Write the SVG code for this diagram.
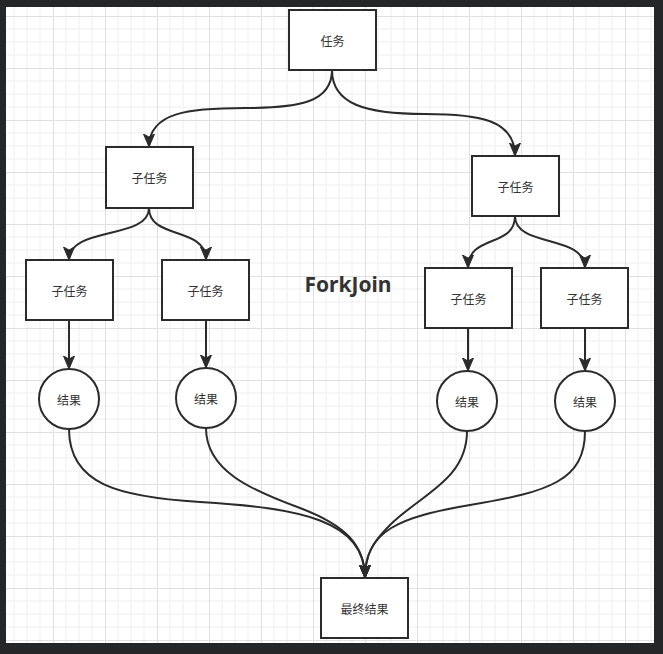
<svg xmlns="http://www.w3.org/2000/svg" width="663" height="654" viewBox="0 0 663 654">
<style>
.box{fill:#fff;stroke:#2b2b2b;stroke-width:2}
.lbl{font-family:"Noto Sans CJK SC","Noto Sans",sans-serif;font-size:12px;fill:#333;text-anchor:middle;dominant-baseline:central}
.edge{fill:none;stroke:#2b2b2b;stroke-width:2;marker-end:url(#arr)}
</style>
<defs>
<pattern id="grid" x="1" y="16" width="52" height="52" patternUnits="userSpaceOnUse">
<path d="M13,0V52M26,0V52M39,0V52M0,13H52M0,26H52M0,39H52" stroke="#efefef" stroke-width="1" fill="none"/>
<path d="M0.5,0V52M0,0.5H52" stroke="#e0e0e0" stroke-width="1" fill="none"/>
</pattern>
<marker id="arr" markerUnits="userSpaceOnUse" markerWidth="14" markerHeight="14" viewBox="0 0 14 14" refX="13" refY="7" orient="auto">
<path d="M0,1.5L13,7L0,12.5L3,7z" fill="#2b2b2b" stroke="#2b2b2b" stroke-width="1"/>
</marker>
</defs>
<rect width="663" height="654" fill="#252627"/>
<rect x="6" y="7" width="648" height="636" fill="#fff"/>
<rect x="6" y="7" width="648" height="636" fill="url(#grid)"/>
<g id="connectors">
<path class="edge" d="M332,70 C332,102 300,108 245,108 C190,108 149,112 149,147"/>
<path class="edge" d="M332,70 C332,104 365,114 425,114 C480,114 515,120 515,156"/>
<path class="edge" d="M149,208 C149,240 69,226 69,260"/>
<path class="edge" d="M149,208 C149,240 206,226 206,260"/>
<path class="edge" d="M515,216 C515,248 468,234 468,268"/>
<path class="edge" d="M515,216 C515,248 585,234 585,268"/>
<path class="edge" d="M69,320 V369"/>
<path class="edge" d="M206,320 V368"/>
<path class="edge" d="M468,328 V371"/>
<path class="edge" d="M585,328 V371"/>
<path class="edge" d="M69,429 C69,485 120,497 200,502 C300,508 365,520 365,578"/>
<path class="edge" d="M206,428 C206,470 250,490 300,508 C345,525 365,545 365,578"/>
<path class="edge" d="M467,431 C467,480 420,495 390,525 C372,543 365,555 365,578"/>
<path class="edge" d="M585,431 C585,480 550,492 470,505 C400,517 365,530 365,578"/>
</g>
<g id="task"><rect class="box" x="289" y="10" width="87" height="60"/><text class="lbl" x="332.5" y="40">任务</text></g>
<g id="sub-left"><rect class="box" x="106" y="147" width="87" height="61"/><text class="lbl" x="149.5" y="177.5">子任务</text></g>
<g id="sub-right"><rect class="box" x="472" y="156" width="87" height="60"/><text class="lbl" x="515.5" y="186">子任务</text></g>
<g id="sub-l1"><rect class="box" x="26" y="260" width="87" height="60"/><text class="lbl" x="69.5" y="290">子任务</text></g>
<g id="sub-l2"><rect class="box" x="162" y="260" width="87" height="60"/><text class="lbl" x="205.5" y="290">子任务</text></g>
<g id="sub-r1"><rect class="box" x="425" y="268" width="87" height="60"/><text class="lbl" x="468.5" y="298">子任务</text></g>
<g id="sub-r2"><rect class="box" x="541" y="268" width="87" height="60"/><text class="lbl" x="584.5" y="298">子任务</text></g>
<g id="res-l1"><circle class="box" cx="69" cy="399" r="30"/><text class="lbl" x="69" y="399">结果</text></g>
<g id="res-l2"><circle class="box" cx="206" cy="398" r="30"/><text class="lbl" x="206" y="398">结果</text></g>
<g id="res-r1"><circle class="box" cx="467" cy="401" r="30"/><text class="lbl" x="467" y="401">结果</text></g>
<g id="res-r2"><circle class="box" cx="585" cy="401" r="30"/><text class="lbl" x="585" y="401">结果</text></g>
<g id="final"><rect class="box" x="321" y="578" width="87" height="60"/><text class="lbl" x="364.5" y="608">最终结果</text></g>
<g id="title"><text x="348" y="292" font-family="'Noto Sans','Open Sans',sans-serif" font-weight="bold" font-size="21" fill="#333" text-anchor="middle">ForkJoin</text></g>
</svg>
